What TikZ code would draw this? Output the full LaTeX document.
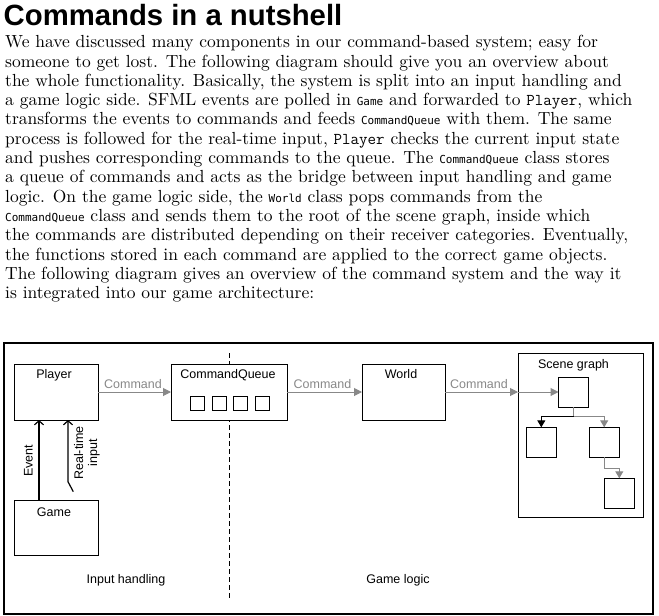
\documentclass[tikz,border=0pt]{standalone}
\usepackage{fontspec}
\setsansfont{Liberation Sans}
\newfontfamily\bodyrm{lmroman10-regular.otf}
\newfontfamily\codeA{Latin Modern Mono}
\newfontfamily\codeB{DejaVu Sans Mono}
\usetikzlibrary{arrows.meta}
\definecolor{cgray}{RGB}{136,136,136}
\newcommand{\cA}[1]{{\codeA\fontsize{16.5}{16.5}\selectfont #1}}
\newcommand{\cB}[1]{{\codeB\fontsize{11}{11}\selectfont #1}}
\begin{document}
\begin{tikzpicture}[x=1pt,y=-1pt,
  para/.style={anchor=base west, inner sep=0pt, font=\bodyrm\fontsize{17.5}{19.3}\selectfont},
  box/.style={draw, line width=1pt, fill=white, inner sep=0pt, outer sep=0pt},
  lbl/.style={anchor=base, inner sep=0pt, font=\sffamily\fontsize{12.5}{14}\selectfont},
  cmd/.style={lbl, text=cgray},
  gar/.style={draw=cgray, line width=1pt, -{Triangle[length=8pt,width=8pt]}},
  bar/.style={draw=black, line width=1.2pt, -{Straight Barb[length=4pt,width=9pt]}},
  tbar/.style={draw=black, line width=1.2pt, -{Triangle[length=7pt,width=8pt]}},
  tgar/.style={draw=cgray, line width=1pt, -{Triangle[length=7pt,width=8pt]}}]
\useasboundingbox (0,0) rectangle (659,616);
% heading
\node[anchor=base west, inner sep=0pt, font=\sffamily\bfseries\fontsize{29.3}{32}\selectfont] (title) at (3.5,25) {Commands in a nutshell};
% paragraph
\node[para] (l1) at (5,47.7) {We have discussed many components in our command-based system; easy for};
\node[para] (l2) at (5,67.0) {someone to get lost. The following diagram should give you an overview about};
\node[para] (l3) at (5,86.3) {the whole functionality. Basically, the system is split into an input handling and};
\node[para] (l4) at (5,105.6) {a game logic side. SFML events are polled in \cB{Game} and forwarded to \cA{Player}, which};
\node[para] (l5) at (5,124.9) {transforms the events to commands and feeds \cB{CommandQueue} with them. The same};
\node[para] (l6) at (5,144.2) {process is followed for the real-time input, \cA{Player} checks the current input state};
\node[para] (l7) at (5,163.5) {and pushes corresponding commands to the queue. The \cB{CommandQueue} class stores};
\node[para] (l8) at (5,182.8) {a queue of commands and acts as the bridge between input handling and game};
\node[para] (l9) at (5,202.1) {logic. On the game logic side, the \cB{World} class pops commands from the};
\node[para] (l10) at (5,221.4) {\cB{CommandQueue} class and sends them to the root of the scene graph, inside which};
\node[para] (l11) at (5,240.7) {the commands are distributed depending on their receiver categories. Eventually,};
\node[para] (l12) at (5,260.0) {the functions stored in each command are applied to the correct game objects.};
\node[para] (l13) at (5,279.3) {The following diagram gives an overview of the command system and the way it};
\node[para] (l14) at (5,298.6) {is integrated into our game architecture:};
% frame
\node[draw, line width=2pt, minimum width=649pt, minimum height=271pt, inner sep=0pt] (frame) at (328.5,478.5) {};
% dashed separator
\coordinate (dtop) at (229,353);
\coordinate (dbot) at (229,600);
\draw[line width=0.9pt, dash pattern=on 5pt off 3pt] (dtop) -- (dbot);
% boxes
\node[box, minimum width=84pt, minimum height=56pt] (player) at (56,392) {};
\node[box, minimum width=116pt, minimum height=56pt] (cq) at (229,392) {};
\node[box, minimum width=83pt, minimum height=56pt] (world) at (403.5,392) {};
\node[box, minimum width=84pt, minimum height=55pt] (game) at (56,527.5) {};
\node[box, minimum width=125pt, minimum height=164pt] (scene) at (580.5,435) {};
\node[lbl] (playerL) at (54,378) {Player};
\node[lbl] (cqL) at (228,378) {CommandQueue};
\node[lbl] (worldL) at (401,378) {World};
\node[lbl] (gameL) at (54,516) {Game};
\node[lbl] (sceneL) at (573.5,368) {Scene graph};
% queue squares
\foreach \i/\x in {1/197,2/219,3/240.5,4/262}
  \node[box, minimum width=14pt, minimum height=14pt] (q\i) at (\x,403) {};
% tree nodes
\node[box, minimum width=30pt, minimum height=30pt] (root) at (573.5,392) {};
\node[box, minimum width=30pt, minimum height=30pt] (lc) at (541.3,442.3) {};
\node[box, minimum width=30pt, minimum height=30pt] (rc) at (604.2,442.3) {};
\node[box, minimum width=30pt, minimum height=30pt] (gc) at (619.3,493.3) {};
% command arrows
\draw[gar] (player.east) -- (cq.west);
\draw[gar] (cq.east) -- (world.west);
\draw[gar] (world.east) -- (world.east -| scene.west);
\draw[gar] (world.east -| scene.west) -- (root.west);
\node[cmd] (c1) at (133,388) {Command};
\node[cmd] (c2) at (322.5,388) {Command};
\node[cmd] (c3) at (479,388) {Command};
% tree connectors
\draw[cgray, line width=1pt] (root.south) -- ++(0,9.5) coordinate (j);
\draw[tbar] (j) -| (lc.north);
\draw[tgar] (j) -| (rc.north);
\draw[tgar] (rc.south) -- ++(0,11) -| (gc.north);
% input arrows
\coordinate (ev) at (39,0);
\draw[bar] (ev |- game.north) -- (ev |- player.south);
\coordinate (rtStart) at (73.3,491.7);
\coordinate (rtBend) at (68,481.7);
\draw[bar] (rtStart) -- (rtBend) -- (rtBend |- player.south);
\node[lbl, anchor=center, rotate=90] (evL) at (28.3,461) {Event};
\node[lbl, anchor=center, rotate=90, align=center] (rtL) at (87,453) {Real-time\\input};
% area labels
\node[lbl] (inL) at (126,583) {Input handling};
\node[lbl] (glL) at (398,583) {Game logic};
\end{tikzpicture}
\end{document}
